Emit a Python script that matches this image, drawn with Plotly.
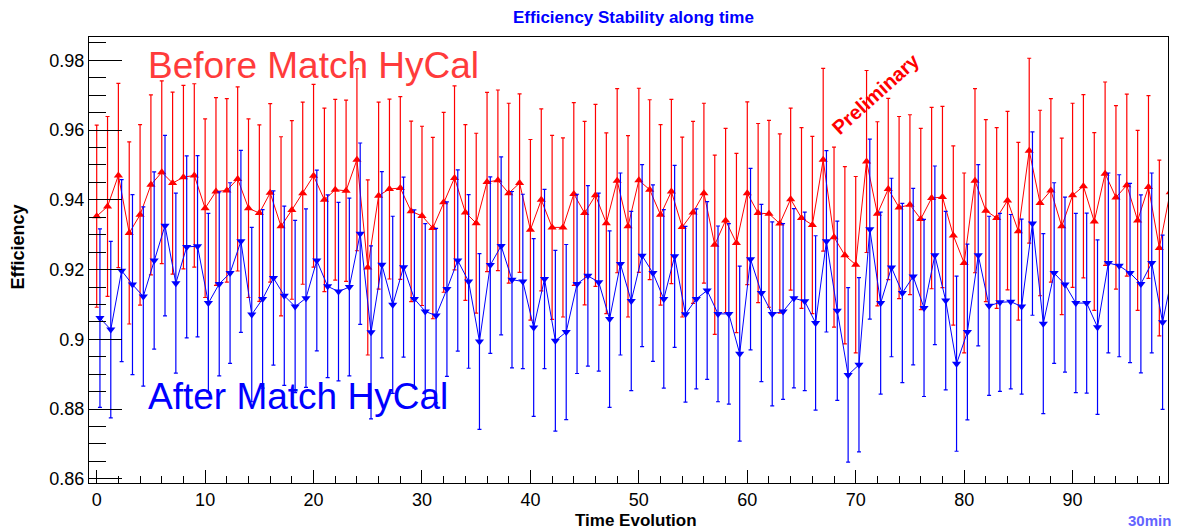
import plotly.graph_objects as go

# Time index (30 min bins)
time_before = list(range(100))
time_after = [t + 0.3 for t in range(100)]

eff_before = [
    0.9353, 0.9381, 0.9470, 0.9305, 0.9357, 0.9443, 0.9479, 0.9448, 0.9465, 0.9470,
    0.9376, 0.9424, 0.9427, 0.9460, 0.9376, 0.9362, 0.9420, 0.9324, 0.9371, 0.9419,
    0.9469, 0.9400, 0.9429, 0.9426, 0.9515, 0.9206, 0.9412, 0.9431, 0.9434, 0.9367,
    0.9354, 0.9319, 0.9393, 0.9463, 0.9364, 0.9333, 0.9451, 0.9456, 0.9419, 0.9448,
    0.9314, 0.9400, 0.9321, 0.9321, 0.9417, 0.9362, 0.9413, 0.9333, 0.9455, 0.9324,
    0.9456, 0.9429, 0.9357, 0.9424, 0.9322, 0.9364, 0.9419, 0.9271, 0.9341, 0.9276,
    0.9419, 0.9362, 0.9360, 0.9332, 0.9402, 0.9348, 0.9328, 0.9515, 0.9293, 0.9241,
    0.9214, 0.9510, 0.9360, 0.9431, 0.9378, 0.9386, 0.9345, 0.9405, 0.9408, 0.9298,
    0.9219, 0.9455, 0.9369, 0.9348, 0.9398, 0.9310, 0.9541, 0.9391, 0.9427, 0.9324,
    0.9413, 0.9439, 0.9338, 0.9475, 0.9407, 0.9442, 0.9341, 0.9437, 0.9262, 0.9422,
]
err_before = [
    0.0261, 0.0258, 0.0264, 0.0261, 0.0259, 0.0258, 0.0262, 0.0261, 0.0263, 0.0263,
    0.0256, 0.0269, 0.0263, 0.0264, 0.0256, 0.0253, 0.0256, 0.0257, 0.0256, 0.0261,
    0.0262, 0.0263, 0.0259, 0.0260, 0.0261, 0.0251, 0.0268, 0.0258, 0.0262, 0.0259,
    0.0257, 0.0260, 0.0258, 0.0264, 0.0252, 0.0258, 0.0257, 0.0259, 0.0258, 0.0256,
    0.0259, 0.0261, 0.0264, 0.0257, 0.0262, 0.0263, 0.0261, 0.0259, 0.0264, 0.0260,
    0.0264, 0.0258, 0.0259, 0.0264, 0.0258, 0.0261, 0.0258, 0.0257, 0.0264, 0.0257,
    0.0262, 0.0257, 0.0268, 0.0257, 0.0261, 0.0259, 0.0254, 0.0262, 0.0258, 0.0254,
    0.0253, 0.0261, 0.0264, 0.0260, 0.0261, 0.0258, 0.0260, 0.0260, 0.0260, 0.0257,
    0.0258, 0.0264, 0.0261, 0.0259, 0.0256, 0.0255, 0.0265, 0.0266, 0.0263, 0.0253,
    0.0264, 0.0263, 0.0255, 0.0263, 0.0263, 0.0261, 0.0258, 0.0262, 0.0252, 0.0260,
]
eff_after = [
    0.9061, 0.9028, 0.9197, 0.9157, 0.9123, 0.9226, 0.9326, 0.9161, 0.9265, 0.9267,
    0.9104, 0.9159, 0.9190, 0.9281, 0.9071, 0.9116, 0.9176, 0.9125, 0.9094, 0.9118,
    0.9226, 0.9152, 0.9137, 0.9150, 0.9303, 0.9020, 0.9214, 0.9099, 0.9207, 0.9116,
    0.9080, 0.9068, 0.9144, 0.9226, 0.9166, 0.8994, 0.9213, 0.9268, 0.9171, 0.9166,
    0.9034, 0.9173, 0.8996, 0.9021, 0.9159, 0.9182, 0.9164, 0.9058, 0.9216, 0.9110,
    0.9240, 0.9190, 0.9116, 0.9238, 0.9072, 0.9116, 0.9140, 0.9073, 0.9073, 0.8959,
    0.9230, 0.9133, 0.9073, 0.9080, 0.9118, 0.9109, 0.9047, 0.9281, 0.9082, 0.8898,
    0.8927, 0.9316, 0.9104, 0.9206, 0.9133, 0.9180, 0.9090, 0.9241, 0.9111, 0.8930,
    0.9021, 0.9241, 0.9096, 0.9106, 0.9108, 0.9094, 0.9332, 0.9045, 0.9190, 0.9157,
    0.9104, 0.9104, 0.9035, 0.9219, 0.9211, 0.9190, 0.9159, 0.9219, 0.9049, 0.9201,
]
err_after = [
    0.0256, 0.0253, 0.0261, 0.0258, 0.0257, 0.0254, 0.0259, 0.0258, 0.0261, 0.0260,
    0.0257, 0.0264, 0.0259, 0.0261, 0.0250, 0.0256, 0.0250, 0.0257, 0.0247, 0.0256,
    0.0259, 0.0262, 0.0256, 0.0255, 0.0260, 0.0248, 0.0267, 0.0254, 0.0258, 0.0255,
    0.0252, 0.0250, 0.0250, 0.0260, 0.0249, 0.0252, 0.0253, 0.0255, 0.0253, 0.0250,
    0.0255, 0.0257, 0.0259, 0.0251, 0.0257, 0.0259, 0.0255, 0.0253, 0.0261, 0.0257,
    0.0261, 0.0253, 0.0256, 0.0261, 0.0252, 0.0258, 0.0255, 0.0252, 0.0259, 0.0251,
    0.0260, 0.0254, 0.0264, 0.0252, 0.0257, 0.0256, 0.0250, 0.0260, 0.0257, 0.0250,
    0.0250, 0.0258, 0.0261, 0.0256, 0.0257, 0.0253, 0.0254, 0.0256, 0.0256, 0.0251,
    0.0252, 0.0260, 0.0257, 0.0255, 0.0250, 0.0251, 0.0263, 0.0258, 0.0259, 0.0251,
    0.0257, 0.0258, 0.0250, 0.0258, 0.0261, 0.0257, 0.0255, 0.0258, 0.0250, 0.0256,
]

x_ticks = [0, 10, 20, 30, 40, 50, 60, 70, 80, 90]
y_ticks = [0.86, 0.88, 0.90, 0.92, 0.94, 0.96, 0.98]
y_tick_text = ["0.86", "0.88", "0.9", "0.92", "0.94", "0.96", "0.98"]

FONT = "Liberation Sans, Arial, Helvetica, sans-serif"
RED = "#ff0000"
BLUE = "#0000ff"

fig = go.Figure()
fig.add_trace(go.Scatter(
    x=time_before, y=eff_before, mode="lines+markers", name="Before Match HyCal",
    line=dict(color=RED, width=1),
    marker=dict(symbol="triangle-up", size=8, color=RED),
    error_y=dict(type="data", array=err_before, visible=True, color=RED, thickness=1.2, width=2),
    cliponaxis=True,
))
fig.add_trace(go.Scatter(
    x=time_after, y=eff_after, mode="lines+markers", name="After Match HyCal",
    line=dict(color=BLUE, width=1),
    marker=dict(symbol="triangle-down", size=8, color=BLUE),
    error_y=dict(type="data", array=err_after, visible=True, color=BLUE, thickness=1.2, width=2),
    cliponaxis=True,
))

# The page body has an 8px margin, so the figure is sized/offset to compensate.
fig.update_layout(
    width=1182, height=523,
    margin=dict(l=81, r=22, t=29, b=48),
    paper_bgcolor="white", plot_bgcolor="white",
    showlegend=False,
    font=dict(family=FONT, size=18, color="black"),
    xaxis=dict(
        range=[-0.71, 98.8], showgrid=False, zeroline=False,
        showline=True, linecolor="black", linewidth=1, mirror=True,
        tickvals=x_ticks, ticks="inside", ticklen=13, tickcolor="black", tickwidth=1,
        tickfont=dict(family=FONT, size=18),
        minor=dict(dtick=2, tick0=0, ticks="inside", ticklen=7, tickcolor="black", tickwidth=1, showgrid=False),
    ),
    yaxis=dict(
        range=[0.8588, 0.9867], showgrid=False, zeroline=False,
        showline=True, linecolor="black", linewidth=1, mirror=True,
        tickvals=y_ticks, ticktext=y_tick_text, ticks="inside", ticklen=33,
        tickcolor="black", tickwidth=1,
        tickfont=dict(family=FONT, size=18),
        minor=dict(dtick=0.005, tick0=0.86, ticks="inside", ticklen=17, tickcolor="black", tickwidth=1, showgrid=False),
    ),
    annotations=[
        dict(text="<b>Efficiency Stability along time</b>", xref="paper", yref="paper",
             x=0.505, y=1.043, xanchor="center", yanchor="middle", showarrow=False,
             font=dict(family=FONT, size=17, color=BLUE)),
        dict(text="<b>Efficiency</b>", xref="paper", yref="paper",
             x=-0.0653, y=0.529, xanchor="center", yanchor="middle", showarrow=False,
             textangle=-90, font=dict(family=FONT, size=18, color="black")),
        dict(text="<b>Time Evolution</b>", xref="paper", yref="paper",
             x=0.507, y=-0.085, xanchor="center", yanchor="middle", showarrow=False,
             font=dict(family=FONT, size=17, color="black")),
        dict(text="<b>30min</b>", xref="paper", yref="paper",
             x=0.983, y=-0.085, xanchor="center", yanchor="middle", showarrow=False,
             font=dict(family=FONT, size=15, color="#6464ff")),
        dict(text="Before Match HyCal", xref="paper", yref="paper",
             x=0.0525, y=0.937, xanchor="left", yanchor="middle", showarrow=False,
             font=dict(family=FONT, size=37, color="#ff3b3b")),
        dict(text="After Match HyCal", xref="paper", yref="paper",
             x=0.0525, y=0.193, xanchor="left", yanchor="middle", showarrow=False,
             font=dict(family=FONT, size=37, color=BLUE)),
        dict(text="<b>Preliminary</b>", xref="paper", yref="paper",
             x=0.729, y=0.872, xanchor="center", yanchor="middle", showarrow=False,
             textangle=-42, font=dict(family=FONT, size=20, color=RED)),
    ],
)

fig.write_html("out.html")
